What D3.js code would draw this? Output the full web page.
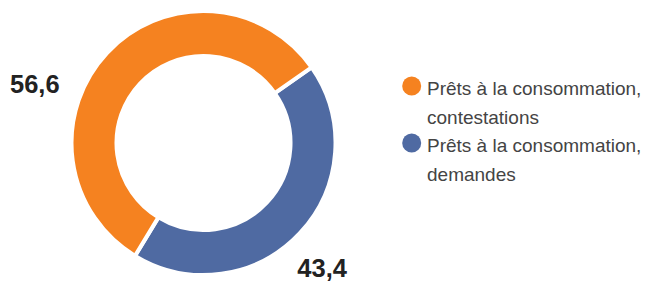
<!DOCTYPE html>
<html><head><meta charset="utf-8">
<script src="https://cdn.jsdelivr.net/npm/d3@7"></script>
<style>body{margin:0;background:#fff}</style>
</head><body>
<svg id="c" width="650" height="284"></svg>
<script>
const categories = ["Prêts à la consommation, demandes", "Prêts à la consommation, contestations"];
const legendLines = [["Prêts à la consommation,", "contestations"], ["Prêts à la consommation,", "demandes"]];
const values = [43.4, 56.6];
const valueLabels = ["43,4", "56,6"];
const colors = ["#4F6AA2", "#F58220"];

const svg = d3.select("#c");
const cx = 203.5, cy = 143, R = 132, r = 87;
const deg = Math.PI / 180;
const pie = d3.pie().sort(null).startAngle(55 * deg).endAngle(415 * deg);
const arc = d3.arc().innerRadius(r).outerRadius(R);
const g = svg.append("g").attr("transform", `translate(${cx},${cy})`);
g.selectAll("path").data(pie(values)).join("path")
  .attr("d", arc).attr("fill", (d, i) => colors[i])
  .attr("stroke", "#fff").attr("stroke-width", 4);

// value labels
svg.append("text").attr("x", 347).attr("y", 277).attr("text-anchor", "end")
  .attr("font-family", "Liberation Sans, Arial, sans-serif").attr("font-weight", "bold")
  .attr("font-size", 25.5).attr("fill", "#222").text(valueLabels[0]);
svg.append("text").attr("x", 10).attr("y", 93).attr("text-anchor", "start")
  .attr("font-family", "Liberation Sans, Arial, sans-serif").attr("font-weight", "bold")
  .attr("font-size", 25.5).attr("fill", "#222").text(valueLabels[1]);

// legend (orange first)
const legendOrder = [1, 0];
const lg = svg.append("g");
legendOrder.forEach((idx, k) => {
  const y0 = 86 + k * 57;
  lg.append("circle").attr("cx", 411.7).attr("cy", y0).attr("r", 9.5).attr("fill", colors[idx]);
  const t = lg.append("text").attr("font-family", "Liberation Sans, Arial, sans-serif")
    .attr("font-size", 19).attr("fill", "#444");
  legendLines[k].forEach((line, j) => {
    t.append("tspan").attr("x", 427).attr("y", y0 + 9 + j * 28.5).text(line);
  });
});
</script>
</body></html>
